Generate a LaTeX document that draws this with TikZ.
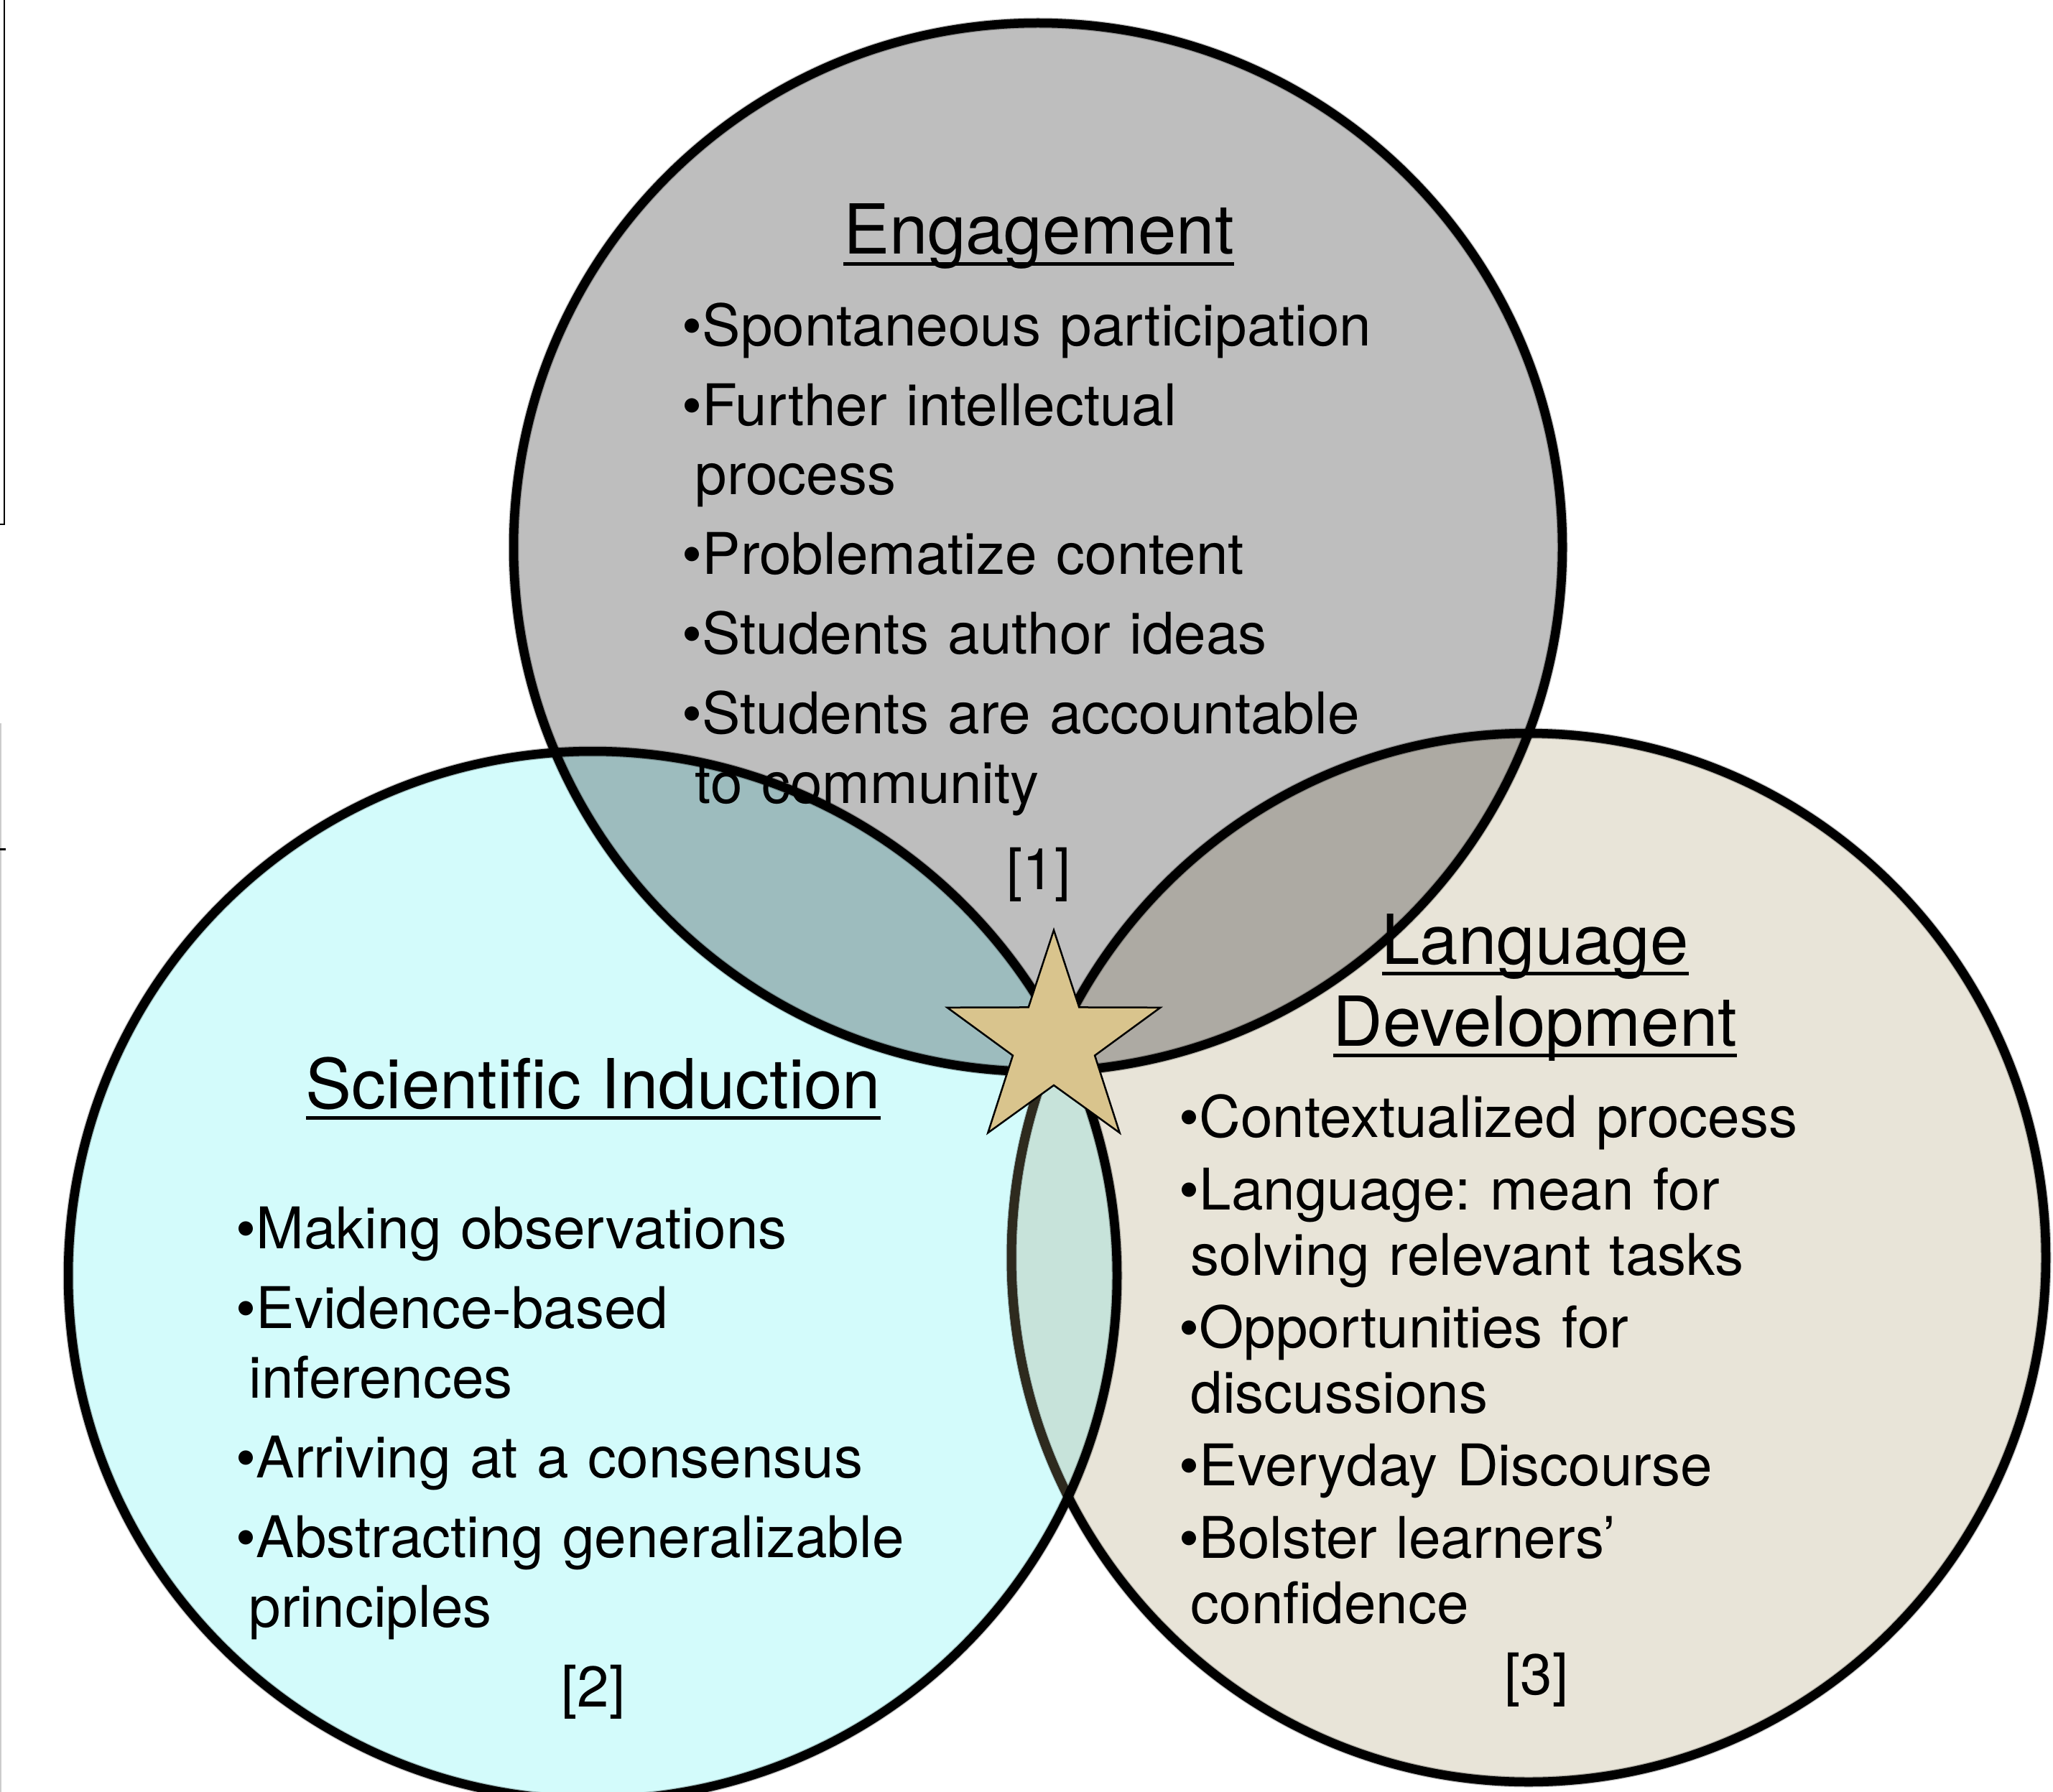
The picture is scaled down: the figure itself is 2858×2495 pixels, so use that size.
\documentclass[tikz,border=0pt]{standalone}
\usepackage{fontspec}
\setmainfont{TeX Gyre Heros}
\usetikzlibrary{shapes.geometric}

\definecolor{engfill}{HTML}{BEBEBE}
\definecolor{scifill}{HTML}{D3FBFB}
\definecolor{lanfill}{HTML}{E8E4D8}
\definecolor{engsci}{HTML}{9DBCBE}
\definecolor{englan}{HTML}{ADAAA3}
\definecolor{scilan}{HTML}{C7E3DA}
\definecolor{allthree}{HTML}{93ABA6}
\definecolor{starfill}{HTML}{D9C48D}
\definecolor{arcbrown}{HTML}{2E2A1E}

% underline that runs through the descenders
\newcommand{\ulword}[1]{\leavevmode\setbox0\hbox{#1}\rlap{\rule[-1.6mm]{\wd0}{0.5mm}}\box0}

\begin{document}
\frenchspacing
\begin{tikzpicture}[x=0.1mm, y=-0.1mm,
  ring/.style={draw=black, line width=1.25mm},
  ringshade/.style={draw=black, opacity=0.25, line width=1.5mm, shift={(3,6)}},
  title/.style={font=\fontsize{9.6mm}{11.4mm}\selectfont, inner sep=0pt, anchor=base},
  body/.style={font=\fontsize{8mm}{9.7mm}\selectfont, inner sep=0pt, anchor=base west,
               text width=110mm, align=left},
  ref/.style={font=\fontsize{8mm}{9.7mm}\selectfont, inner sep=0pt, anchor=base}]
  \useasboundingbox (0,0) rectangle (2858,2495);
  \fill[white] (0,0) rectangle (2858,2495);

  % bits of a box cut off at the left edge
  \draw[line width=0.25mm] (6,0) -- (6,730) -- (0,730);
  \draw[gray!40, line width=0.2mm] (1,1007) -- (1,2495);
  \draw[line width=0.3mm] (0,1182) -- (8,1182);

  \coordinate (cE) at (1445,762);
  \coordinate (cS) at (825,1776);
  \coordinate (cL) at (2128,1751);

  % fills
  \fill[engfill] (cE) circle[radius=730];
  \fill[scifill] (cS) circle[radius=730];
  \fill[lanfill] (cL) ellipse[x radius=720, y radius=730];
  \begin{scope}
    \clip (cE) circle[radius=730];
    \fill[engsci] (cS) circle[radius=730];
    \fill[englan] (cL) ellipse[x radius=720, y radius=730];
  \end{scope}
  \begin{scope}
    \clip (cS) circle[radius=730];
    \fill[scilan] (cL) ellipse[x radius=720, y radius=730];
    \clip (cE) circle[radius=730];
    \fill[allthree] (cL) ellipse[x radius=720, y radius=730];
  \end{scope}

  % outlines
  \draw[ringshade] (cL) ellipse[x radius=720, y radius=730];
  \draw[ringshade] (cS) circle[radius=730];
  \draw[ringshade] (cE) circle[radius=730];
  \draw[ring] (cL) ellipse[x radius=720, y radius=730];
  \draw[ring] (cS) circle[radius=730];
  \draw[ring] (cE) circle[radius=730];
  \begin{scope}
    \clip (cS) circle[radius=723];
    \draw[ring, draw=arcbrown] (cL) ellipse[x radius=720, y radius=730];
  \end{scope}

  \node[star, star points=5, star point ratio=2.6, minimum size=31.2mm, inner sep=0pt,
        fill=starfill, draw=black, line width=0.25mm] (star) at (1467,1451) {};

  % Engagement
  \node[title] (engT) at (1446,354) {\ulword{Engagement}};
  \node[body] (engB) at (949,481) {•Spontaneous participation\\[1.4mm]
    •Further intellectual\\ \hspace*{1.8mm}process\\[1.4mm]
    •Problematize content\\[1.4mm]
    •Students author ideas\\[1.4mm]
    •Students are accountable\\ \hspace*{1.8mm}to community};
  \node[ref] (engR) at (1446,1238) {[1]};

  % Scientific Induction
  \node[title] (sciT) at (826,1543) {\ulword{Scientific Induction}};
  \node[body] (sciB) at (328,1738) {•Making observations\\[1.4mm]
    •Evidence-based\\ \hspace*{1.8mm}inferences\\[1.4mm]
    •Arriving at a consensus\\[1.4mm]
    •Abstracting generalizable\\ \hspace*{1.8mm}principles};
  \node[ref] (sciR) at (826,2376) {[2]};

  % Language Development
  \node[title, text width=80mm, align=center] (lanT) at (2137,1342)
    {\ulword{Language}\\\ulword{Development}};
  \node[body, font=\fontsize{8mm}{9.1mm}\selectfont] (lanB) at (1641,1583) {•Contextualized process\\[1mm]
    •Language: mean for\\ \hspace*{1.6mm}solving relevant tasks\\[1mm]
    •Opportunities for\\ \hspace*{1.6mm}discussions\\[1mm]
    •Everyday Discourse\\[1mm]
    •Bolster learners’\\ \hspace*{1.6mm}confidence};
  \node[ref] (lanR) at (2139,2359) {[3]};
\end{tikzpicture}
\end{document}
